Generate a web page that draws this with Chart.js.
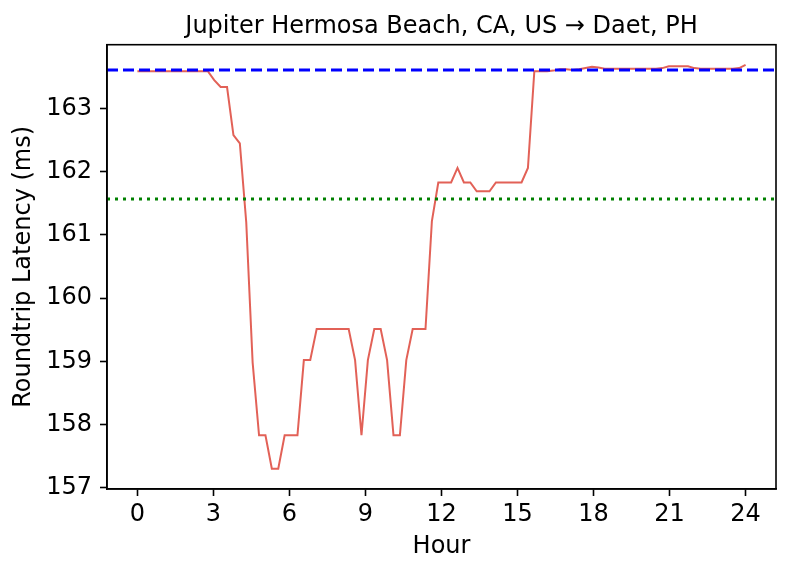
<!DOCTYPE html>
<html>
<head>
<meta charset="utf-8">
<script src="https://cdn.jsdelivr.net/npm/chart.js@4/dist/chart.umd.min.js"></script>
<style>
  html, body { margin: 0; padding: 0; background: #fff; }
  #wrap { width: 790px; height: 573px; }
</style>
</head>
<body>
<div id="wrap"><canvas id="latencyChart" width="790" height="573"></canvas></div>
<script>
// roundtrip latency (ms), one sample per ~15 min over the day
const latency = [
    163.59, 163.59, 163.59, 163.59, 163.59, 163.59, 163.59, 163.59, 163.59, 163.59, 163.59, 163.59,
    163.45, 163.34, 163.34, 162.58, 162.45, 161.2, 158.98, 157.83, 157.83, 157.3, 157.3, 157.83,
    157.83, 157.83, 159.02, 159.02, 159.51, 159.51, 159.51, 159.51, 159.51, 159.51, 159.02, 157.83,
    159.02, 159.51, 159.51, 159.02, 157.83, 157.83, 159.02, 159.51, 159.51, 159.51, 161.22, 161.83,
    161.83, 161.83, 162.06, 161.83, 161.83, 161.69, 161.69, 161.69, 161.83, 161.83, 161.83, 161.83,
    161.83, 162.06, 163.59, 163.59, 163.59, 163.60, 163.62, 163.62, 163.61, 163.62, 163.64, 163.66,
    163.65, 163.63, 163.63, 163.63, 163.63, 163.63, 163.63, 163.63, 163.63, 163.63, 163.64, 163.67,
    163.67, 163.67, 163.67, 163.64, 163.63, 163.63, 163.63, 163.63, 163.63, 163.63, 163.64, 163.69
];
// samples are spread evenly from hour 0 to hour 24
const hours = latency.map((v, i) => i * 24 / (latency.length - 1));

const medianLatency = 163.61;   // blue dashed
const meanLatency = 161.57;     // green dotted

const xTicks = [0, 3, 6, 9, 12, 15, 18, 21, 24];
const yTicks = [157, 158, 159, 160, 161, 162, 163];

const xMin = -1.2, xMax = 25.2;
const yMin = 156.98, yMax = 164.01;

const titleText = 'Jupiter Hermosa Beach, CA, US \u2192 Daet, PH';
const FONT = "'DejaVu Sans', sans-serif";

// matplotlib-style box around the axes, title centred over the axes
const frame = {
    id: 'frame',
    afterDraw(chart) {
        const a = chart.chartArea;
        const ctx = chart.ctx;
        ctx.save();
        ctx.strokeStyle = '#000';
        ctx.lineWidth = 1.6;
        ctx.strokeRect(a.left, a.top, a.right - a.left, a.bottom - a.top);
        ctx.fillStyle = '#000';
        ctx.font = '24px ' + FONT;
        ctx.textAlign = 'center';
        ctx.textBaseline = 'alphabetic';
        ctx.fillText(titleText, (a.left + a.right) / 2, a.top - 11.5);
        ctx.restore();
    }
};

new Chart(document.getElementById('latencyChart'), {
    type: 'line',
    data: {
        datasets: [
            {
                data: hours.map((h, i) => ({ x: h, y: latency[i] })),
                borderColor: 'rgba(220, 62, 50, 0.82)',
                borderWidth: 2,
                pointRadius: 0,
                tension: 0,
                order: 2
            },
            {
                data: [{ x: xMin, y: medianLatency }, { x: xMax, y: medianLatency }],
                borderColor: '#0000ff',
                borderWidth: 3,
                borderDash: [11, 5],
                pointRadius: 0,
                order: 1
            },
            {
                data: [{ x: xMin, y: meanLatency }, { x: xMax, y: meanLatency }],
                borderColor: '#008000',
                borderWidth: 3,
                borderDash: [3, 5],
                pointRadius: 0,
                order: 1
            }
        ]
    },
    options: {
        responsive: false,
        animation: false,
        devicePixelRatio: 1,
        layout: {
            padding: { left: 0, right: 14, top: 44.7, bottom: 0 }
        },
        plugins: {
            legend: { display: false },
            tooltip: { enabled: false },
            title: { display: false }
        },
        scales: {
            x: {
                type: 'linear',
                min: xMin,
                max: xMax,
                afterBuildTicks: (scale) => { scale.ticks = xTicks.map(v => ({ value: v })); },
                afterFit: (scale) => { scale.height = 84; },
                ticks: {
                    color: '#000',
                    font: { family: FONT, size: 24 },
                    padding: 4,
                    maxRotation: 0,
                    autoSkip: false
                },
                grid: {
                    drawOnChartArea: false,
                    tickLength: 7,
                    tickWidth: 1.6,
                    tickColor: '#000'
                },
                border: { display: true, color: '#000', width: 1.6 },
                title: {
                    display: true,
                    text: 'Hour',
                    color: '#000',
                    font: { family: FONT, size: 24 },
                    padding: { top: 0, bottom: 12 }
                }
            },
            y: {
                type: 'linear',
                min: yMin,
                max: yMax,
                afterBuildTicks: (scale) => { scale.ticks = yTicks.map(v => ({ value: v })); },
                afterFit: (scale) => { scale.width = 107; },
                ticks: {
                    color: '#000',
                    font: { family: FONT, size: 24 },
                    padding: 8,
                    autoSkip: false
                },
                grid: {
                    drawOnChartArea: false,
                    tickLength: 7,
                    tickWidth: 1.6,
                    tickColor: '#000'
                },
                border: { display: true, color: '#000', width: 1.6 },
                title: {
                    display: true,
                    text: 'Roundtrip Latency (ms)',
                    color: '#000',
                    font: { family: FONT, size: 24 },
                    padding: { top: 9, bottom: 0 }
                }
            }
        }
    },
    plugins: [frame]
});
</script>
</body>
</html>
